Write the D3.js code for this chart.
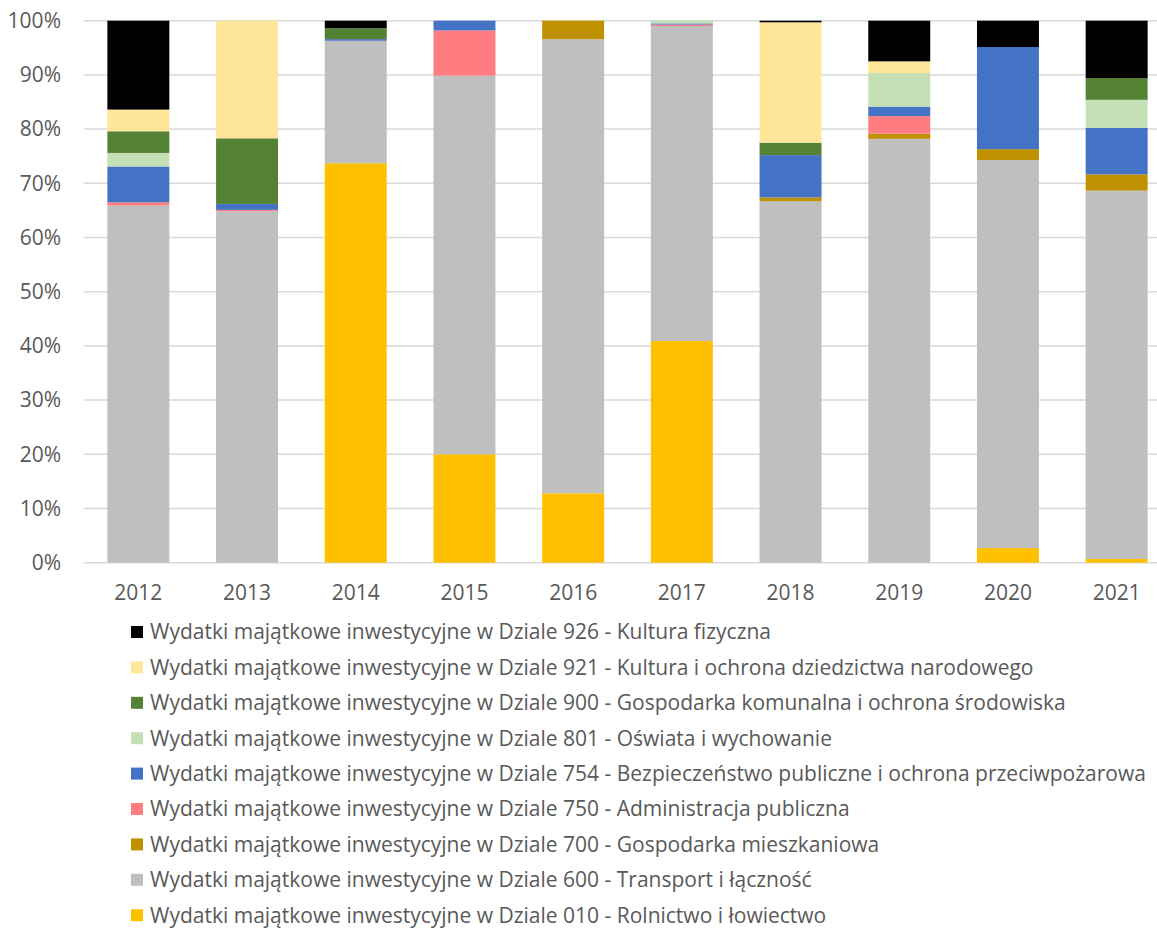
<!DOCTYPE html>
<html>
<head>
<meta charset="utf-8">
<script src="https://cdn.jsdelivr.net/npm/d3@7"></script>
<style>
  body { margin: 0; background: #fff; }
  text { font-family: "Open Sans", sans-serif; fill: #595959; }
</style>
</head>
<body>
<div id="chart"></div>
<script>
const width = 1157;
const height = 929;

const margin = { top: 20.7, left: 84, bottom: 929 - 562.7 };

// data (shares in %)
const years = ["2012","2013","2014","2015","2016","2017","2018","2019","2020","2021"];

const d010 = [0, 0, 73.7, 20.0, 12.8, 40.9, 0, 0, 2.7, 0.7];
const d600 = [65.9, 64.85, 22.6, 69.85, 83.8, 58.1, 66.7, 78.2, 71.6, 67.95];
const d700 = [0, 0, 0, 0, 3.4, 0, 0.7, 0.95, 2.0, 3.0];
const d750 = [0.6, 0.25, 0, 8.35, 0, 0.3, 0, 3.25, 0, 0];
const d754 = [6.6, 1.1, 0.3, 1.8, 0, 0.2, 7.8, 1.75, 18.85, 8.6];
const d801 = [2.5, 0, 0, 0, 0, 0.5, 0, 6.2, 0, 5.15];
const d900 = [4.0, 12.1, 2.0, 0, 0, 0, 2.3, 0, 0, 4.0];
const d921 = [4.0, 21.7, 0, 0, 0, 0, 22.2, 2.15, 0, 0];
const d926 = [16.4, 0, 1.4, 0, 0, 0, 0.3, 7.5, 4.85, 10.6];

const seriesKeys = ["010","600","700","750","754","801","900","921","926"];
const seriesNames = [
  "Wydatki majątkowe inwestycyjne w Dziale 010 - Rolnictwo i łowiectwo",
  "Wydatki majątkowe inwestycyjne w Dziale 600 - Transport i łączność",
  "Wydatki majątkowe inwestycyjne w Dziale 700 - Gospodarka mieszkaniowa",
  "Wydatki majątkowe inwestycyjne w Dziale 750 - Administracja publiczna",
  "Wydatki majątkowe inwestycyjne w Dziale 754 - Bezpieczeństwo publiczne i ochrona przeciwpożarowa",
  "Wydatki majątkowe inwestycyjne w Dziale 801 - Oświata i wychowanie",
  "Wydatki majątkowe inwestycyjne w Dziale 900 - Gospodarka komunalna i ochrona środowiska",
  "Wydatki majątkowe inwestycyjne w Dziale 921 - Kultura i ochrona dziedzictwa narodowego",
  "Wydatki majątkowe inwestycyjne w Dziale 926 - Kultura fizyczna"
];
const colors = ["#FFC000","#BFBFBF","#BF9000","#FF7C80","#4472C4","#C5E0B4","#548235","#FFE699","#000000"];
const yTicks = [0, 0.1, 0.2, 0.3, 0.4, 0.5, 0.6, 0.7, 0.8, 0.9, 1];

const seriesValues = [d010, d600, d700, d750, d754, d801, d900, d921, d926];

//build table for stack
const table = years.map((y, i) => {
  const row = { year: y };
  seriesKeys.forEach((k, j) => row[k] = seriesValues[j][i]);
  return row;
});

const stacked = d3.stack().keys(seriesKeys).offset(d3.stackOffsetExpand)(table);

const xScale = d3.scaleBand()
  .domain(years)
  .range([margin.left, margin.left + 1087])
  .paddingInner(0.43)
  .paddingOuter(0.215);

const yScale = d3.scaleLinear()
  .domain([0, 1])
  .range([height - margin.bottom, margin.top]);

const color = d3.scaleOrdinal().domain(seriesKeys).range(colors);

const svg = d3.select("#chart").append("svg").attr("width", width).attr("height", height);

//gridlines
svg.append("g")
  .selectAll("line")
  .data(yTicks)
  .join("line")
  .attr("x1", margin.left)
  .attr("x2", width)
  .attr("y1", d => yScale(d))
  .attr("y2", d => yScale(d))
  .attr("stroke", "#D9D9D9")
  .attr("stroke-width", 1.5);

//y labels
svg.append("g")
  .selectAll("text")
  .data(yTicks)
  .join("text")
  .attr("x", 61)
  .attr("y", d => yScale(d))
  .attr("dy", "0.35em")
  .attr("text-anchor", "end")
  .attr("font-size", 21)
  .text(d => d3.format(".0%")(d));

//bars
svg.append("g")
  .selectAll("g")
  .data(stacked)
  .join("g")
  .attr("fill", d => color(d.key))
  .selectAll("rect")
  .data(d => d)
  .join("rect")
  .attr("x", d => xScale(d.data.year))
  .attr("width", xScale.bandwidth())
  .attr("y", d => yScale(d[1]))
  .attr("height", d => yScale(d[0]) - yScale(d[1]));

//x labels
svg.append("g")
  .selectAll("text")
  .data(years)
  .join("text")
  .attr("x", d => xScale(d) + xScale.bandwidth() / 2)
  .attr("y", 593)
  .attr("dy", "0.35em")
  .attr("text-anchor", "middle")
  .attr("font-size", 21)
  .text(d => d);

//legend (top entry = last series)
const legendItems = seriesKeys.map((k, i) => ({ key: k, name: seriesNames[i] })).reverse();

const legend = svg.append("g")
  .selectAll("g")
  .data(legendItems)
  .join("g")
  .attr("transform", (d, i) => `translate(131,${632 + i * 35.4})`);

legend.append("rect")
  .attr("x", 0)
  .attr("y", -6)
  .attr("width", 12)
  .attr("height", 12)
  .attr("fill", d => color(d.key));

legend.append("text")
  .attr("x", 19)
  .attr("y", 0)
  .attr("dy", "0.35em")
  .attr("font-size", 21)
  .text(d => d.name);
</script>
</body>
</html>
